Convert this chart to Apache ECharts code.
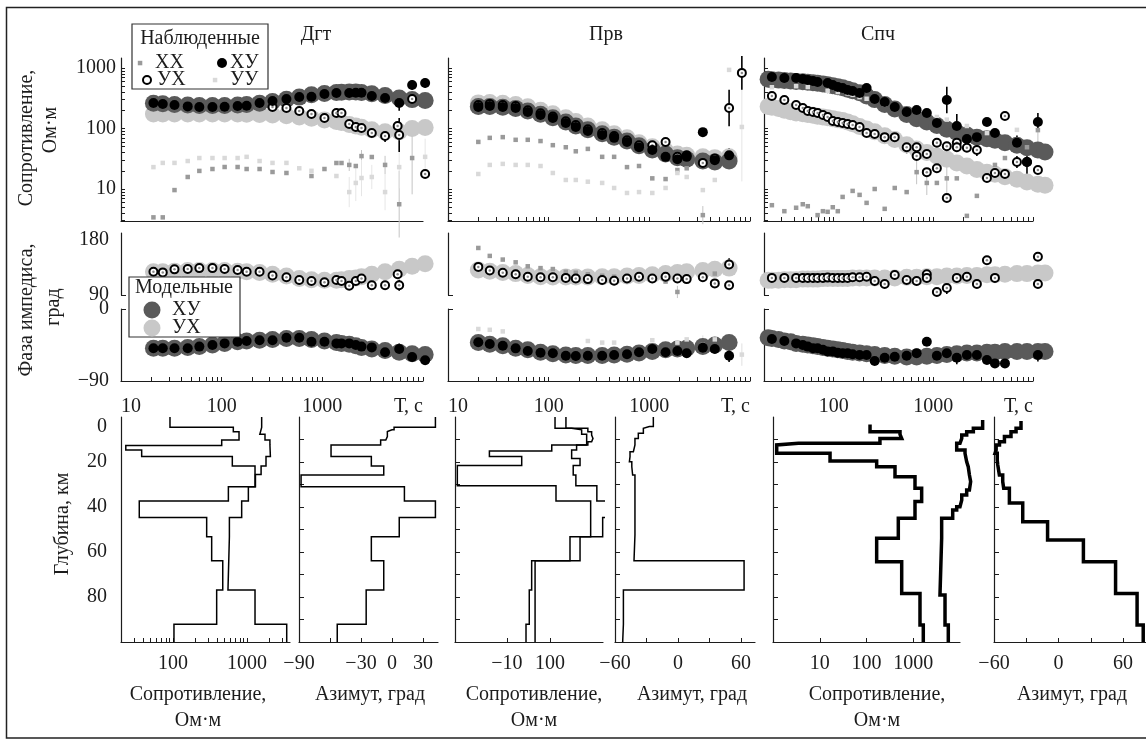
<!DOCTYPE html>
<html>
<head>
<meta charset="utf-8">
<script src="https://cdn.jsdelivr.net/npm/echarts@6.0.0/dist/echarts.min.js"></script>
<style>
  html, body { margin: 0; padding: 0; background: #fff; }
  #chart { width: 1146px; height: 740px; }
</style>
</head>
<body>
<div id="chart"></div>
<script>
// ---- station 1: Дгт ----
const periods1 = [21, 26, 34, 46, 60, 81, 107, 144, 177, 238, 320, 440, 590, 780, 1050, 1380, 1550, 1850, 2150, 2450, 3100, 4200, 5800, 7800, 10500];
const modXY1 = [262, 256, 250, 245, 240, 240, 240, 245, 250, 262, 280, 305, 330, 360, 380, 392, 398, 400, 400, 395, 375, 350, 320, 300, 290];
const modYX1 = [174, 174, 174, 174, 174, 174, 174, 174, 172, 170, 167, 162, 155, 148, 138, 130, 126, 116, 110, 105, 95, 88, 88, 100, 104];
const obsXY1 = [264, 254, 245, 232, 226, 226, 228, 235, 238, 264, 285, 308, 332, 335, 372, 386, null, 386, 390, 390, 344, 319, 264, 523, 565];
const obsYX1 = [null, null, null, null, null, null, null, null, null, null, 226, 218, 194, 174, 149, 180, 180, 119, 106, 102, 84, 75, 78, 308, 17.7];
const obsXX1 = [3.4, 3.4, 9.6, 15.8, 19.9, 21.4, 23.1, 23.1, 21.4, 21.4, 19.1, 18.4, null, 16.4, 21.4, 26.9, 26.9, 25, 24, 35, 33.8, 25, 5.6, 32.5, null];
const obsYY1 = [23, 27, 27, 29, 32.5, 32.5, 32.5, 32.5, 34, 29, 27, 27, 22, 20, null, 16.4, null, 8.9, 12.6, 15.2, 15.8, 8.9, 23, null, 34];
const extraYX1 = [[5600, 110]];
const phYXobs1 = [128, 127, 132, 132.5, 134, 134, 132.5, 131, 128, 128, 122, 119, 114.5, 113, 111, 114.5, 113, 105, 113, 117, 106, 106, 106, null, null];
const phYXmod1 = [128, 128, 129, 130, 130, 130, 130, 129, 128, 127, 124, 121, 117, 115, 114, 114, 115, 117, 118, 120, 124, 128, 132, 137, 141];
const phXYobs1 = [-49, -49, -49, -49, -47, -45, -43, -41, -40, -39, -39, -36, -36, -41, -41, -43, -43, -43, -45, -47, -48, -54, -50, -60, -64];
const phXYmod1 = [-49, -49, -49, -48, -47, -45, -43, -41, -40, -39, -38, -37, -37, -38, -40, -42, -43, -44, -46, -48, -50, -52, -54, -56, -57];
const extraPhYX1 = [[5600, 124]];
// error bars: [index, half length] (log10 units for resistivity, degrees for phase)
const errXY1 = [[22, 0.13], [23, 0.08], [24, 0.08]];
const errYX1 = [[20, 0.08], [21, 0.1], [22, 0.28]];
const errXX1 = [[17, 0.1], [19, 0.1], [21, 0.15], [22, 0.55], [23, 0.6]];
const errYY1 = [[17, 0.25], [18, 0.3], [19, 0.3], [20, 0.2], [21, 0.3], [22, 0.35], [24, 0.3]];
const errPhYX1 = [[20, 5], [21, 5], [22, 9]];
const errPhXY1 = [[22, 7], [23, 5], [24, 6]];

// ---- station 2: Прв ----
const periods2 = [20, 26, 35, 47, 62, 83, 110, 148, 186, 245, 340, 447, 600, 790, 1070, 1450, 1900, 2350, 3400, 4470, 6200, 8300];
const modXY2 = [230, 230, 225, 215, 195, 172, 150, 128, 110, 95, 82, 72, 62, 52, 44, 38, 33, 31, 29, 28, 29, null];
const modYX2 = [265, 268, 262, 250, 228, 200, 175, 150, 130, 110, 95, 82, 70, 58, 50, 43, 38, 36, 34, 33, 34, null];
const obsXY2 = [226, 235, 226, 218, 187, 167, 149, 123, 106, 91, 78, 70, 60, 49, 44, 34, 31, 34, 87, 30, 36, null];
const obsYX2 = [245, 255, 245, 235, 200, 178, 158, 132, 114, 97, 84, 75, 64, 53, 53, 60, 34, 36, 27, 32, 218, 830];
const obsXX2 = [60, 70, 72, 65, 65, 62, 53, 49, 42, 46, 34, 34, 23, 24, 15, 14.6, 20.6, 22, 3.7, null, null, null];
const obsYY2 = [17.7, 25, 26, 25, 25, 24, 18.4, 14.1, 14.1, 13.2, 12.6, 10.4, 8.6, 8.9, 8.6, 10.4, 18.4, 15.8, 9.6, 14.1, 930, 106];
const extraYX2 = [];
const phYXobs2 = [136, 130, 126.5, 124, 120, 119, 119, 118, 117, 116, 114.5, 113.4, 117, 120, 117, 120, 117, 116, 119, 109, 140, null];
const phYXmod2 = [131, 129, 127, 125, 122, 120, 119.5, 119.5, 119.5, 119.5, 120, 120, 121, 122, 123, 125, 127, 128, 130, 132, 134, null];
const phXXobs2 = [167, 154, 148, 143.5, 137, 134, 132.5, 128, 126.5, 124, 121.6, 120, 119, null, null, 112, 95, null, null, 125, null, null];
const phXYobs2 = [-41.6, -43.8, -45.9, -49.2, -52.5, -54.6, -55.4, -58.4, -58.8, -58.4, -58.4, -57.5, -56.6, -54.1, -50, -54.1, -52.5, -55.4, -48.4, -50, -58.4, null];
const phXYmod2 = [-42, -44, -46, -49, -51, -54, -56, -57.5, -58, -58, -58, -57.5, -56.5, -55, -53, -51, -50, -49, -47, -45, -42, null];
const phYYobs2 = [-25, -26, -28, null, null, null, null, null, null, -40, -42, -42, null, null, -39, null, -42, -38, -45, -38, null, -57];
const extraPhYX2 = [[6200, 106]];
const errXY2 = [[20, 0.12]];
const errYX2 = [[20, 0.3], [21, 0.28]];
const errXX2 = [[18, 0.15]];
const errYY2 = [[21, 0.9]];
const errPhYX2 = [[20, 10]];
const errPhXY2 = [[20, 8]];
const errPhXX2 = [[16, 10]];
const errPhYY2 = [[18, 12], [21, 14]];

// ---- station 3: Спч ----
const periods3 = [22, 24, 28, 32, 37, 42, 49, 55, 62, 69, 78, 87, 98, 110, 123, 138, 155, 182, 214, 258, 325, 410, 540, 680, 860, 1085, 1365, 1720, 2170, 2735, 3450, 4150, 5230, 6900, 8700, 11200, 13200];
const modXY3 = [650, 640, 630, 620, 610, 600, 590, 580, 570, 560, 545, 530, 510, 490, 470, 445, 420, 390, 345, 300, 250, 210, 170, 145, 128, 112, 97, 86, 78, 72, 68, 64, 58, 53, 48, 44, 41];
const modYX3 = [230, 225, 215, 200, 190, 180, 175, 170, 165, 160, 155, 150, 145, 140, 135, 128, 120, 108, 98, 88, 76, 66, 54, 46, 40, 35, 31, 27, 24, 21, 19, 17.5, 16, 14.5, 13, 12, 11.5];
const obsXY3 = [null, 710, null, 684, null, 684, 658, 633, 610, 587, null, 565, 524, 485, 467, 433, 417, 386, 467, 308, 274, 226, 187, 202, 180, 123, 296, 110, 67, 72, 128, 84, null, 58, 28, 128, null];
const obsYX3 = [null, 344, null, 296, null, 245, 218, 195, 187, 180, 167, 155, 133, 128, 123, 119, 114, 106, 84, 81, 72, 72, 49, 49, 38, 22, 51, 58, 48, 44, 15.2, 18.4, 161, 28, 28, 20.6, null];
const obsXX3 = [null, 5.4, null, 4.3, null, 4.9, 5.6, 5.2, null, 3.7, 4.3, 4.2, 5.0, 4.3, 7.4, null, 9.3, 8.0, 5.9, 10, 4.7, 10.4, 8.9, 19, 12.6, 12.6, 15, 15, 3.6, 7.7, null, 25, 32.5, null, 49, 94, null];
const obsYY3 = [null, 480, null, null, null, 500, null, 485, null, null, null, 420, null, 400, null, 380, 360, 330, 310, 300, 250, 230, 200, 202, 170, 155, 140, null, 110, null, 84, 84, null, 95, null, null, null];
const extraYX3 = [[680, 35], [860, 19], [1085, 58], [1365, 7.1], [1720, 49], [5230, 17.7]];
const phYXobs3 = [null, 118, null, 118, null, 118, 118, 118, 118, 118, 118, 118.5, 118, 118, 118, 118, 119, 119, 120, 113, 108, 122.7, 114.5, 113, 124, 95, 101.5, 118, 120, 108, 147, 118, null, null, null, 152.7, null];
const phYXmod3 = [114, 114, 114, 115, 115, 115, 116, 116, 116, 116, 117, 117, 117, 117, 117, 117, 118, 118, 118, 118, 118, 118, 119, 119, 120, 120, 121, 121, 122, 122, 123, 123, 124, 125, 125, 126, 126];
const phXYobs3 = [null, -37.5, null, -40, null, -43, -45, -47, -49, -49, -51, -53, -53, -54.6, -55.4, -55.4, -56.6, -57.5, -57.5, -65, -61, -59.6, -58.4, -55.4, -41, -58.4, -55.4, -61, -57.5, -57.5, -63.7, -68, -68, null, null, -57.5, null];
const phXYmod3 = [-36, -37, -38, -40, -41, -43, -44, -45, -46, -47, -48, -49, -50, -51, -52, -53, -54, -55, -56, -57, -58, -59, -60, -60, -59, -58, -57, -56, -55, -55, -54, -54, -53, -53, -53, -53, -53];
const extraPhYX3 = [[11200, 108], [860, 118]];
const errXY3 = [[26, 0.22], [27, 0.2], [33, 0.12], [34, 0.35], [35, 0.15]];
const errYX3 = [[22, 0.1], [29, 0.1], [33, 0.1]];
const errXX3 = [[23, 0.2], [24, 0.2], [26, 0.25], [35, 0.2]];
const errYY3 = [];
const errPhYX3 = [[26, 10], [35, 6]];
const errPhXY3 = [[26, 8], [27, 8], [35, 8]];

// ---- depth profiles (layer tops, km, and values) ----
const c1ResTopsA = [0, 4.6, 6.5, 10.2, 12.7, 14.7, 17.6, 21.8, 31, 37.3, 44.7, 53.2, 63.9, 76.9, 92.1];
const c1ResA = [91, 653, 780, 455, 23, 37.7, 633, 1283, 560, 35, 285, 333, 470, 389, 103];
const c1ResTopsB = [0, 4.6, 7.7, 10.2, 12.4, 17.6, 21.8, 25.5, 31, 37.3, 44.7, 53.2, 76.9, 92.1];
const c1ResB = [1578, 1490, 1750, 2040, 2070, 1806, 1550, 1300, 1043, 847, 578, 553, 1283, 3440];
const c1AzTops = [0, 4.6, 5.7, 6.5, 8.7, 10.2, 12.4, 17.6, 21.8, 25.8, 31, 37.3, 44.7, 53.2, 63.9, 76.9, 92.1];
const c1Az = [42, 2, 0, -4.5, -6, -11, -59, -20, -8, -88, 12, 42, 7, -20, -8, -25, -53];
const c2ResTopsA = [0, 5, 5.7, 7.7, 12.4, 15.1, 17.6, 21.6, 30.5, 37.3, 53.2, 63.9, 76.9, 92.1];
const c2ResA = [131, 319, 545, 713, 110, 3.9, 22, 0.7, 138, 883, 292, 37.5, 33, 27.7];
const c2ResTopsB = [0, 5, 6.5, 8, 9.5, 11, 12.4, 14.7, 18.4, 21.6, 25.8, 30.5, 37.3, 44.7, 53.2, 63.9];
const c2ResB = [235, 760, 930, 1000, 930, 760, 416, 319, 500, 347, 400, 1230, 2100, 1680, 500, 45];
const c2AzTops = [0, 4.2, 5, 7.2, 9.5, 12.4, 15.4, 17.6, 19.9, 22.1, 25.8, 30.2, 52.4, 63.9, 76.9, 92.1];
const c2Az = [-23.5, -27.3, -33, -37.8, -41, -42.5, -45.7, -46.3, -44, -43.2, -41, -41, -41.9, 62.9, -52, -52.7];
const c3ResTopsA = [3.3, 6.5, 7.7, 9.5, 11.7, 12.4, 16.1, 19.5, 22.1, 26.5, 31.7, 37.6, 45, 53.9, 64.3, 78.4, 92.4];
const c3ResA = [119, 521, 566, 194, 3.5, 1.2, 16.6, 165, 407, 1090, 1513, 1090, 479, 165, 566, 1394, 1640];
const c3ResTopsB = [1.3, 5, 6.5, 8, 9.5, 11.7, 13.2, 14.7, 16.1, 19.9, 22.1, 25.8, 28.7, 32.4, 34.7, 36.9, 39.9, 41.3, 45, 53.9, 79.1, 92.4];
const c3ResB = [30500, 19300, 13900, 10900, 10000, 8500, 8500, 12800, 13900, 15000, 15900, 16900, 15900, 13900, 10900, 10000, 8500, 6980, 4050, 3730, 4780, 5620];
const c3AzTops = [1.8, 5, 6.5, 8.7, 11, 12.4, 14.7, 16.1, 19.1, 21.3, 25.8, 28.7, 31.7, 38.2, 46.5, 54.7, 64.3, 78.4, 92.4];
const c3Az = [-34.9, -39.5, -44.2, -50.3, -54.9, -58, -59, -57, -56.5, -55, -51.9, -51, -45.7, -33.3, -10.2, 23.1, 53, 73, 78.7];

// ---- tick labels ----
const rhoLabels = [10, 100, 1000];
const periodLabels = [10, 100, 1000, 10000];
const depthLabels = [0, 20, 40, 60, 80];

// ------------------------------------------------------------------
const L = Math.log10;
const id = v => v;
const FONT = 'Liberation Serif';
const FSIZE = 20;
const INK = '#1c1c1c';

const chart = echarts.init(document.getElementById('chart'), null, { renderer: 'canvas' });

function logTicks(lo, hi) {
  const out = [];
  for (let k = -1; k < 5; k++) {
    for (let m = 1; m < 10; m++) {
      const v = L(m) + k;
      if (v >= lo - 1e-9 && v <= hi + 1e-9) out.push(v);
    }
  }
  return out;
}
const axLine = { show: true, onZero: false, lineStyle: { color: INK, width: 1.2 } };
const noLine = { show: false };
function ticks(vals, len) {
  return { show: true, inside: true, length: len || 4, customValues: vals, lineStyle: { color: INK, width: 1 } };
}
function labels(vals, formatter, extra) {
  return Object.assign({ show: true, customValues: vals, formatter, fontFamily: FONT, fontSize: FSIZE, color: INK }, extra);
}
const fmtLog = v => String(Math.round(Math.pow(10, v)));
const fmtNeg = v => (v < 0 ? '\u2212' + (-v) : String(v));
const fmtPeriod = v => (Math.abs(v - 4) < 1e-6 ? 'Т, с' : fmtLog(v));

// grids: [left, top, width, height]; the last one carries the wide Спч resistivity curves
const boxes = [
  [121, 58, 302, 163], [448, 58, 302, 163], [764, 58, 269, 163],
  [121, 233, 302, 62], [448, 233, 302, 62], [764, 233, 269, 62],
  [121, 309, 302, 72], [448, 309, 302, 72], [764, 309, 269, 72],
  [121, 417, 169, 225], [299, 417, 139, 225], [455, 417, 148, 225],
  [615, 417, 140, 225], [773, 417, 187, 225], [994, 417, 156, 225],
  [773, 417, 217, 225]
];
const grid = boxes.map(b => ({ left: b[0], top: b[1], width: b[2], height: b[3], containLabel: false, outerBoundsMode: 'none' }));

const tMin = [1, 1, L(20)];
const rhoMin = L(2.96), rhoMax = L(1462);
const xAxis = [], yAxis = [];
function ax(o) { return Object.assign({ type: 'value', splitLine: { show: false }, axisLine: noLine, axisTick: { show: false }, axisLabel: { show: false } }, o); }

for (let s = 0; s < 3; s++) {
  xAxis[s] = ax({ gridIndex: s, min: tMin[s], max: 4, axisLine: axLine, axisTick: s === 0 ? { show: false } : ticks(logTicks(tMin[s], 4)) });
  yAxis[s] = ax({ gridIndex: s, min: rhoMin, max: rhoMax, axisLine: axLine, axisTick: ticks(logTicks(rhoMin, rhoMax)),
    axisLabel: s === 0 ? labels(rhoLabels.map(L), fmtLog, { margin: 5 }) : { show: false } });
  xAxis[3 + s] = ax({ gridIndex: 3 + s, min: tMin[s], max: 4, show: false });
  yAxis[3 + s] = ax({ gridIndex: 3 + s, min: 90, max: 191.5, axisLine: axLine, axisTick: ticks([90], 5),
    axisLabel: s === 0 ? labels([90, 180], fmtNeg, { margin: 12 }) : { show: false } });
  const pl = periodLabels.map(L).filter(v => v >= tMin[s] - 1e-9);
  xAxis[6 + s] = ax({ gridIndex: 6 + s, min: tMin[s], max: 4, axisLine: axLine, axisTick: ticks(logTicks(tMin[s], 4)),
    axisLabel: labels(pl, fmtPeriod, Object.assign({ margin: 16, alignMaxLabel: 'right' }, s < 2 ? { alignMinLabel: 'left' } : {})) });
  yAxis[6 + s] = ax({ gridIndex: 6 + s, min: -90, max: 0, axisLine: axLine, axisTick: ticks([0], 5),
    axisLabel: s === 0 ? labels([0, -90], fmtNeg, { margin: 12 }) : { show: false } });
}
// depth panels
const depthX = [
  { min: 1.297, max: 3.581, t: logTicks(1.297, 3.581), l: [2, 3], f: fmtLog },
  { min: -90, max: 44.5, t: [-60, -30, 0, 30], l: [-90, -30, 0, 30], f: fmtNeg },
  { min: -0.209, max: 3.233, t: [1, 2], l: [1, 2], f: v => (v < 1.5 ? '\u221210' : '100') },
  { min: -60, max: 73.3, t: [-30, 0, 30, 60], l: [-60, 0, 60], f: fmtNeg },
  { min: 0, max: 4, t: [1, 2, 3], l: [1, 2, 3], f: fmtLog },
  { min: -60, max: 85, t: [-30, 0, 30, 60], l: [-60, 0, 60], f: fmtNeg }
];
depthX.forEach((d, k) => {
  const g = 9 + k;
  xAxis[g] = ax({ gridIndex: g, min: d.min, max: d.max, axisLine: axLine, axisTick: ticks(d.t), axisLabel: labels(d.l, d.f, { margin: 12 }) });
  yAxis[g] = ax({ gridIndex: g, min: 0, max: 100, inverse: true, axisLine: axLine,
    axisTick: k === 0 ? { show: false } : ticks([10, 20, 30, 40, 50, 60, 70, 80, 90], 5),
    axisLabel: k === 0 ? labels(depthLabels, String, { margin: 14, verticalAlignMinLabel: 'top' }) : { show: false } });
});
// hidden wide axes for the Спч resistivity curves (same scale as grid 13, 46.75 px per decade)
xAxis[15] = ax({ gridIndex: 15, min: 0, max: 4 * 217 / 187, show: false });
yAxis[15] = ax({ gridIndex: 15, min: 0, max: 100, inverse: true, show: false });

// ---- series ----
const sty = {
  modXY: { symbol: 'circle', symbolSize: 17, itemStyle: { color: '#5a5a5a', opacity: 1 } },
  modYX: { symbol: 'circle', symbolSize: 17, itemStyle: { color: '#c8c8c8', opacity: 1 } },
  obsXY: { symbol: 'circle', symbolSize: 10, itemStyle: { color: '#000', opacity: 1 } },
  obsYX: { symbol: 'circle', symbolSize: 8, itemStyle: { color: '#fff', borderColor: '#000', borderWidth: 2, opacity: 1 } },
  dotYX: { symbol: 'circle', symbolSize: 2.5, itemStyle: { color: '#8a8a8a', opacity: 1 } },
  XX: { symbol: 'rect', symbolSize: 4.5, itemStyle: { color: '#9a9a9a', opacity: 1 } },
  YY: { symbol: 'rect', symbolSize: 4.5, itemStyle: { color: '#d9d9d9', opacity: 1 } }
};
function scatter(g, T, vals, fy, st) {
  const data = [];
  T.forEach((t, i) => { if (vals[i] != null) data.push([L(t), fy(vals[i])]); });
  return Object.assign({ type: 'scatter', xAxisIndex: g, yAxisIndex: g, data, clip: false, silent: true }, st);
}
function pairs(g, list, fy, st) {
  return Object.assign({ type: 'scatter', xAxisIndex: g, yAxisIndex: g, data: list.map(p => [L(p[0]), fy(p[1])]), clip: false, silent: true }, st);
}
function errbars(g, T, vals, errs, fy, color, w) {
  const data = errs.filter(e => vals[e[0]] != null).map(([i, h]) => { const c = fy(vals[i]); return [L(T[i]), c - h, c + h]; });
  return {
    type: 'custom', xAxisIndex: g, yAxisIndex: g, clip: false, silent: true, data, encode: { x: 0, y: [1, 2] },
    renderItem: (p, api) => {
      const a = api.coord([api.value(0), api.value(1)]);
      const b = api.coord([api.value(0), api.value(2)]);
      return { type: 'line', shape: { x1: a[0], y1: a[1], x2: b[0], y2: b[1] }, style: { stroke: color, lineWidth: w } };
    }
  };
}
function profile(g, tops, vals, fx, w) {
  const data = tops.map((d, i) => [fx(vals[i]), d]);
  data.push([fx(vals[vals.length - 1]), 100]);
  return { type: 'line', xAxisIndex: g, yAxisIndex: g, data, step: 'start', showSymbol: false, symbol: 'none', clip: false, silent: true,
    lineStyle: { color: '#000', width: w, join: 'miter' } };
}

const stations = [
  { T: periods1, mXY: modXY1, mYX: modYX1, oXY: obsXY1, oYX: obsYX1, oXX: obsXX1, oYY: obsYY1, xYX: extraYX1,
    eXY: errXY1, eYX: errYX1, eXX: errXX1, eYY: errYY1,
    pYXo: phYXobs1, pYXm: phYXmod1, pXYo: phXYobs1, pXYm: phXYmod1, pYXextra: extraPhYX1, epYX: errPhYX1, epXY: errPhXY1 },
  { T: periods2, mXY: modXY2, mYX: modYX2, oXY: obsXY2, oYX: obsYX2, oXX: obsXX2, oYY: obsYY2, xYX: extraYX2,
    eXY: errXY2, eYX: errYX2, eXX: errXX2, eYY: errYY2,
    pYXo: phYXobs2, pYXm: phYXmod2, pXYo: phXYobs2, pXYm: phXYmod2, pYXextra: extraPhYX2, epYX: errPhYX2, epXY: errPhXY2,
    pXX: phXXobs2, epXX: errPhXX2, pYY: phYYobs2, epYY: errPhYY2 },
  { T: periods3, mXY: modXY3, mYX: modYX3, oXY: obsXY3, oYX: obsYX3, oXX: obsXX3, oYY: obsYY3, xYX: extraYX3,
    eXY: errXY3, eYX: errYX3, eXX: errXX3, eYY: errYY3,
    pYXo: phYXobs3, pYXm: phYXmod3, pXYo: phXYobs3, pXYm: phXYmod3, pYXextra: extraPhYX3, epYX: errPhYX3, epXY: errPhXY3 }
];

const series = [];
stations.forEach((S, s) => {
  const T = S.T;
  // resistivity
  series.push(errbars(s, T, S.oXX, S.eXX, L, '#c4c4c4', 1));
  series.push(errbars(s, T, S.oYY, S.eYY, L, '#e6e6e6', 1));
  series.push(scatter(s, T, S.mYX, L, sty.modYX));
  series.push(scatter(s, T, S.mXY, L, sty.modXY));
  series.push(scatter(s, T, S.oXX, L, sty.XX));
  series.push(scatter(s, T, S.oYY, L, sty.YY));
  series.push(errbars(s, T, S.oYX, S.eYX, L, '#000', 1.6));
  series.push(errbars(s, T, S.oXY, S.eXY, L, '#000', 1.6));
  series.push(scatter(s, T, S.oYX, L, sty.obsYX));
  series.push(scatter(s, T, S.oYX, L, sty.dotYX));
  series.push(pairs(s, S.xYX, L, sty.obsYX));
  series.push(pairs(s, S.xYX, L, sty.dotYX));
  series.push(scatter(s, T, S.oXY, L, sty.obsXY));
  // phase, upper part (YX)
  const gu = 3 + s, gl = 6 + s;
  series.push(scatter(gu, T, S.pYXm, id, sty.modYX));
  if (S.pXX) {
    series.push(errbars(gu, T, S.pXX, S.epXX, id, '#c4c4c4', 1));
    series.push(scatter(gu, T, S.pXX, id, sty.XX));
  }
  series.push(errbars(gu, T, S.pYXo, S.epYX, id, '#000', 1.6));
  series.push(scatter(gu, T, S.pYXo, id, sty.obsYX));
  series.push(scatter(gu, T, S.pYXo, id, sty.dotYX));
  series.push(pairs(gu, S.pYXextra, id, sty.obsYX));
  series.push(pairs(gu, S.pYXextra, id, sty.dotYX));
  // phase, lower part (XY)
  series.push(scatter(gl, T, S.pXYm, id, sty.modXY));
  if (S.pYY) {
    series.push(errbars(gl, T, S.pYY, S.epYY, id, '#e0e0e0', 1));
    series.push(scatter(gl, T, S.pYY, id, sty.YY));
  }
  series.push(errbars(gl, T, S.pXYo, S.epXY, id, '#000', 1.6));
  series.push(scatter(gl, T, S.pXYo, id, sty.obsXY));
});
// depth profiles
series.push(profile(9, c1ResTopsA, c1ResA, L, 1.5));
series.push(profile(9, c1ResTopsB, c1ResB, L, 1.5));
series.push(profile(10, c1AzTops, c1Az, id, 1.5));
series.push(profile(11, c2ResTopsA, c2ResA, L, 1.5));
series.push(profile(11, c2ResTopsB, c2ResB, L, 1.5));
series.push(profile(12, c2AzTops, c2Az, id, 1.5));
series.push(profile(15, c3ResTopsA, c3ResA, L, 3.5));
series.push(profile(15, c3ResTopsB, c3ResB, L, 3.5));
series.push(profile(14, c3AzTops, c3Az, id, 3.5));

// ---- texts, legends, frame ----
const font = FSIZE + 'px "Liberation Serif"';
function txt(x, y, s, extra) {
  return Object.assign({ type: 'text', x, y, silent: true, z: 110,
    style: { text: s, font, fill: INK, textAlign: 'center', textVerticalAlign: 'middle' } }, extra || {});
}
function ltxt(x, y, s) {
  return { type: 'text', x, y, silent: true, z: 110, style: { text: s, font, fill: INK, textAlign: 'left', textVerticalAlign: 'middle' } };
}
const R90 = Math.PI / 2;
const graphic = [
  { type: 'rect', silent: true, z: 90, shape: { x: 6.5, y: 7.5, width: 1150, height: 730.5 }, style: { fill: 'none', stroke: '#222', lineWidth: 1.5 } },
  txt(316, 35, 'Дгт'), txt(606, 35, 'Прв'), txt(878, 35, 'Спч'),
  txt(27, 138, 'Сопротивление,', { rotation: R90 }), txt(51, 130, 'Ом·м', { rotation: R90 }),
  txt(27, 310, 'Фаза импедиса,', { rotation: R90 }), txt(54, 307, 'град', { rotation: R90 }),
  txt(63, 524, 'Глубина, км', { rotation: R90 }),
  txt(198, 695, 'Сопротивление,'), txt(198, 721, 'Ом·м'), txt(370, 695, 'Азимут, град'),
  txt(534, 695, 'Сопротивление,'), txt(534, 721, 'Ом·м'), txt(692, 695, 'Азимут, град'),
  txt(877, 695, 'Сопротивление,'), txt(877, 721, 'Ом·м'), txt(1072, 695, 'Азимут, град'),
  // observed legend
  { type: 'rect', silent: true, z: 100, shape: { x: 132, y: 24, width: 136, height: 65 }, style: { fill: '#fff', stroke: '#333', lineWidth: 1.2 } },
  txt(200, 39, 'Наблюденные'),
  { type: 'rect', silent: true, z: 110, shape: { x: 137.8, y: 60.8, width: 4.5, height: 4.5 }, style: { fill: '#9a9a9a' } },
  ltxt(155, 63, 'ХХ'),
  { type: 'circle', silent: true, z: 110, shape: { cx: 222, cy: 63, r: 5 }, style: { fill: '#000' } },
  ltxt(230, 63, 'ХУ'),
  { type: 'circle', silent: true, z: 110, shape: { cx: 147, cy: 80, r: 4 }, style: { fill: '#fff', stroke: '#000', lineWidth: 2 } },
  ltxt(157, 80, 'УХ'),
  { type: 'rect', silent: true, z: 110, shape: { x: 212.8, y: 77.8, width: 4.5, height: 4.5 }, style: { fill: '#d9d9d9' } },
  ltxt(230, 80, 'УУ'),
  // model legend
  { type: 'rect', silent: true, z: 100, shape: { x: 129, y: 277, width: 111, height: 60 }, style: { fill: '#fff', stroke: '#333', lineWidth: 1.2 } },
  txt(184, 288, 'Модельные'),
  { type: 'circle', silent: true, z: 110, shape: { cx: 152, cy: 310, r: 8.5 }, style: { fill: '#5a5a5a' } },
  ltxt(172, 310, 'ХУ'),
  { type: 'circle', silent: true, z: 110, shape: { cx: 152, cy: 328, r: 8.5 }, style: { fill: '#c8c8c8' } },
  ltxt(172, 328, 'УХ')
];

chart.setOption({
  animation: false,
  backgroundColor: '#fff',
  grid, xAxis, yAxis, series,
  graphic: { elements: graphic }
});
</script>
</body>
</html>
